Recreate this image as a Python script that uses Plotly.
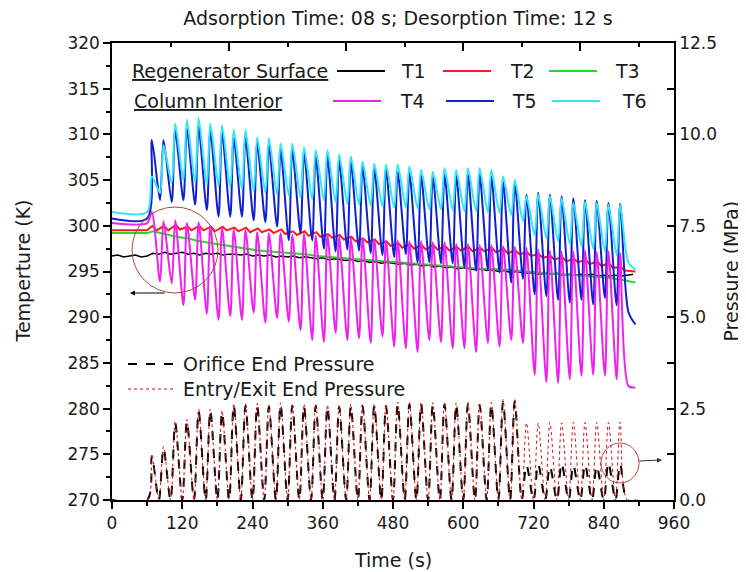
import plotly.graph_objects as go

# cycle schedule: 8 s adsorption + 12 s desorption, first cycle at 60 s
cycle_start = list(range(60, 880, 20))   # 41 cycles
t_end = 894

# steady temperatures before cycling starts (K)
pre_T1, pre_T2, pre_T3 = 296.7, 299.5, 299.2
pre_T4, pre_T5, pre_T6 = 300.3, 300.8, 301.5

# T4 (column interior, magenta): peak at end of adsorption, trough after desorption
T4_peak = [301.5, 300.5, 300.6, 300.3, 300.4, 300.0, 299.8, 299.6, 299.5, 299.3,
           299.2, 299.2, 299.0, 299.1, 298.9, 299.0, 298.8, 298.6, 298.7, 298.5,
           298.4, 298.4, 298.3, 298.3, 298.2, 298.2, 298.0, 298.0, 297.9, 297.9,
           297.8, 297.7, 297.6, 297.4, 297.3, 297.2, 297.2, 297.3, 297.1, 297.2,
           297.0]
T4_trough = [293.9, 293.7, 291.3, 291.9, 290.4, 289.7, 290.1, 289.7, 290.5, 289.4,
             289.9, 289.5, 288.6, 287.5, 287.3, 288.3, 287.5, 287.7, 287.2, 287.9,
             286.8, 286.6, 286.2, 287.5, 287.3, 286.6, 286.6, 286.2, 287.2, 286.8,
             287.5, 287.2, 283.7, 282.9, 282.8, 283.2, 283.6, 283.7, 283.6, 283.2,
             282.5]
T4_last = 282.3

# T5 (blue)
T5_peak = [309.4, 309.4, 310.4, 310.6, 310.8, 310.4, 310.2, 309.6, 309.6, 309.0,
           308.8, 308.4, 308.3, 308.0, 307.6, 307.6, 307.2, 307.0, 306.5, 306.3,
           306.2, 305.9, 305.8, 305.5, 305.4, 305.6, 305.5, 305.6, 305.6, 305.4,
           304.8, 304.8, 303.4, 303.6, 303.4, 303.2, 303.0, 302.8, 302.7, 302.5,
           302.4]
T5_trough = [302.8, 302.6, 302.8, 302.3, 301.7, 301.0, 301.0, 301.0, 300.6, 300.4,
             299.9, 298.4, 299.2, 298.4, 297.5, 297.2, 297.4, 297.3, 297.0, 296.8,
             296.6, 296.9, 296.0, 296.0, 295.9, 295.9, 295.4, 295.1, 295.2, 294.9,
             293.8, 294.2, 292.5, 292.3, 291.9, 291.6, 291.9, 291.4, 292.1, 291.3,
             290.6]
T5_last = 289.2

# T6 (cyan)
T6_peak = [305.4, 308.8, 311.2, 311.6, 311.8, 311.2, 311.0, 310.5, 310.5, 309.7,
           309.6, 309.0, 309.0, 308.6, 308.3, 308.3, 307.8, 307.6, 307.0, 306.8,
           306.7, 306.7, 306.5, 306.1, 305.9, 306.3, 306.1, 306.3, 306.3, 306.1,
           305.4, 305.0, 303.2, 303.4, 303.2, 303.0, 302.5, 302.6, 302.5, 302.3,
           302.3]
T6_trough = [303.6, 304.7, 305.0, 304.7, 304.5, 304.3, 304.2, 304.0, 303.8, 303.6,
             303.4, 303.3, 303.1, 302.9, 302.8, 302.6, 302.4, 302.3, 302.2, 302.1,
             302.0, 302.0, 301.9, 301.8, 301.8, 301.7, 301.6, 301.6, 301.5, 301.4,
             301.2, 300.5, 299.0, 298.6, 298.3, 298.0, 297.8, 297.5, 297.2, 296.8,
             296.0]
T6_last = 295.2

# T2 (regenerator surface, red): small bump each cycle on a slowly falling base
T2_bump = [300.0, 300.0, 300.1, 299.9, 300.0, 299.9, 299.9, 299.8, 299.8, 299.7,
           299.6, 299.6, 299.4, 299.4, 299.3, 299.1, 299.0, 298.8, 298.6, 298.5,
           298.3, 298.1, 298.0, 297.9, 297.9, 297.8, 297.7, 297.7, 297.6, 297.6,
           297.5, 297.3, 297.1, 296.9, 296.7, 296.6, 296.4, 296.3, 296.1, 295.9,
           295.5]
T2_base = [299.5, 299.5, 299.6, 299.5, 299.5, 299.4, 299.5, 299.4, 299.3, 299.3,
           299.2, 299.1, 299.0, 298.9, 298.8, 298.7, 298.5, 298.3, 298.2, 298.0,
           297.8, 297.6, 297.5, 297.4, 297.4, 297.3, 297.3, 297.2, 297.2, 297.1,
           297.0, 296.9, 296.7, 296.5, 296.3, 296.1, 296.0, 295.8, 295.6, 295.4,
           295.1]
T2_last = 295.0

# T3 (green), one reading per cycle
T3_cycle = [299.4, 299.1, 298.8, 298.6, 298.3, 298.1, 297.9, 297.7, 297.5, 297.3,
            297.2, 297.1, 297.0, 296.9, 296.7, 296.6, 296.5, 296.4, 296.3, 296.2,
            296.1, 296.0, 295.9, 295.8, 295.7, 295.6, 295.5, 295.4, 295.3, 295.3,
            295.2, 295.1, 295.0, 294.9, 294.8, 294.7, 294.6, 294.5, 294.4, 294.3,
            294.1]
T3_last = 293.8

# T1 (black), every 10 s from 0 to 890 s
T1_time = list(range(0, 900, 10))
T1 = [296.7, 296.8, 296.6, 296.7, 296.8, 296.6, 296.7,
      297.0, 296.9, 297.1, 296.9, 297.0, 297.1, 296.9, 297.0, 296.8, 297.0, 296.9, 297.0, 296.8, 296.9,
      296.9, 296.8, 296.9, 296.7, 296.8, 296.7, 296.8, 296.6, 296.7, 296.6,
      296.7, 296.5, 296.6, 296.5, 296.4, 296.5, 296.3, 296.4, 296.3, 296.2,
      296.3, 296.1, 296.2, 296.0, 296.1, 295.9, 296.0, 295.9, 295.8, 295.9,
      295.7, 295.8, 295.6, 295.7, 295.5, 295.6, 295.4, 295.5, 295.3, 295.4,
      295.3, 295.2, 295.3, 295.1, 295.2, 295.0, 295.1, 294.9, 295.0, 294.9,
      294.8, 294.9, 294.7, 294.8, 294.7, 294.8, 294.6, 294.7, 294.6, 294.7,
      294.6, 294.7, 294.5, 294.6, 294.5, 294.6, 294.5, 294.6, 294.7]

# pressures (MPa): peak of each cycle, back to ~0 at start of next
P_entry_peak = [1.25, 1.46, 2.16, 2.20, 2.49, 2.49, 2.45, 2.64, 2.64, 2.64,
                2.60, 2.66, 2.64, 2.62, 2.62, 2.60, 2.60, 2.62, 2.62, 2.64,
                2.62, 2.68, 2.68, 2.68, 2.66, 2.67, 2.66, 2.68, 2.66, 2.67,
                2.75, 2.75, 2.11, 2.11, 2.12, 2.11, 2.13, 2.12, 2.13, 2.12,
                2.13]
P_orifice_peak = [1.20, 1.40, 2.10, 2.15, 2.42, 2.44, 2.40, 2.58, 2.58, 2.58,
                  2.55, 2.60, 2.58, 2.57, 2.57, 2.55, 2.55, 2.57, 2.57, 2.58,
                  2.57, 2.62, 2.62, 2.62, 2.60, 2.61, 2.60, 2.62, 2.60, 2.61,
                  2.68, 2.70, 0.95, 0.98, 0.92, 1.00, 0.95, 0.97, 0.93, 1.02,
                  0.98]
P_floor = 0.0


def oscillation(pre, peaks, troughs, last):
    """interleave peak (8 s into cycle) and trough (2 s into next cycle)"""
    t, v = [0, 60], [pre, pre]
    for k, t0 in enumerate(cycle_start):
        t += [t0 + 8, t0 + 22]
        v += [peaks[k], troughs[k]]
    t.append(t_end)
    v.append(last)
    return t, v


def bumps(pre, peaks, base, last):
    t, v = [0, 60], [pre, pre]
    for k, t0 in enumerate(cycle_start):
        t += [t0 + 9, t0 + 16]
        v += [peaks[k], base[k]]
    t.append(t_end)
    v.append(last)
    return t, v


def pressure(peaks):
    t, v = [0, 60], [P_floor, P_floor]
    for k, t0 in enumerate(cycle_start):
        t += [t0 + 8, t0 + 20]
        v += [peaks[k], P_floor]
    t.append(900)
    v.append(P_floor)
    return t, v


fig = go.Figure()

# pressures on right axis
tx, px_ = pressure(P_orifice_peak)
fig.add_trace(go.Scatter(x=tx, y=px_, yaxis='y2', mode='lines', line_shape='spline',
                         line=dict(color='black', width=2, dash='dash', smoothing=0.9)))
tx, px_ = pressure(P_entry_peak)
fig.add_trace(go.Scatter(x=tx, y=px_, yaxis='y2', mode='lines', line_shape='spline',
                         line=dict(color='#cc1111', width=1, dash='dot', smoothing=0.9)))

# temperatures
fig.add_trace(go.Scatter(x=T1_time, y=T1, mode='lines', line=dict(color='black', width=1.5)))
tx, ty = bumps(pre_T2, T2_bump, T2_base, T2_last)
fig.add_trace(go.Scatter(x=tx, y=ty, mode='lines', line=dict(color='#ff1a1a', width=2)))
t3x = [0, 60] + [t0 + 10 for t0 in cycle_start] + [t_end]
t3y = [pre_T3, pre_T3] + T3_cycle + [T3_last]
fig.add_trace(go.Scatter(x=t3x, y=t3y, mode='lines', line=dict(color='#22dd22', width=2)))
tx, ty = oscillation(pre_T5, T5_peak, T5_trough, T5_last)
fig.add_trace(go.Scatter(x=tx, y=ty, mode='lines', line_shape='spline',
                         line=dict(color='#1020d0', width=2, smoothing=0.8)))
tx, ty = oscillation(pre_T6, T6_peak, T6_trough, T6_last)
fig.add_trace(go.Scatter(x=tx, y=ty, mode='lines', line_shape='spline',
                         line=dict(color='#33e5f5', width=2, smoothing=0.8)))
tx, ty = oscillation(pre_T4, T4_peak, T4_trough, T4_last)
fig.add_trace(go.Scatter(x=tx, y=ty, mode='lines', line_shape='spline',
                         line=dict(color='#ee22ee', width=2, smoothing=0.8)))

# dummy trace so the top (mirror) axis is drawn
fig.add_trace(go.Scatter(x=[None], y=[None], xaxis='x2', mode='lines', hoverinfo='skip'))

# page pixel -> paper helpers (page body has an 8 px margin)
OFF = 8
W, H = 746 - OFF, 572 - OFF
L, R, T, B = 112, 674, 43, 500
def px(x): return (x - L) / (R - L)
def py(y): return (B - y) / (B - T)

FONT = 'DejaVu Sans, sans-serif'
ink = '#1a1a1a'

shapes, annots = [], []

# legend, temperatures
rows = [(71, '<u>Regenerator Surface</u>', 130,
         [('T1', 'black', 337, 399), ('T2', '#ff1a1a', 443, 508), ('T3', '#22dd22', 549, 613)]),
        (101, '<u>Column Interior</u>', 132,
         [('T4', '#ee22ee', 333, 398), ('T5', '#1020d0', 446, 510), ('T6', '#33e5f5', 552, 620)])]
for y, head, hx, items in rows:
    annots.append(dict(x=px(hx), y=py(y), text=head, xanchor='left', yanchor='middle',
                       showarrow=False))
    for name, col, lx, tx_ in items:
        shapes.append(dict(type='line', xref='paper', yref='paper', x0=px(lx), x1=px(lx + 48),
                           y0=py(y), y1=py(y), line=dict(color=col, width=2)))
        annots.append(dict(x=px(tx_), y=py(y), text=name, xanchor='left', yanchor='middle',
                           showarrow=False))

# legend, pressures
for y, txt, dash, col, w in [(364, 'Orifice End Pressure', 'dash', 'black', 2),
                             (389, 'Entry/Exit End Pressure', 'dot', '#cc1111', 1)]:
    shapes.append(dict(type='line', xref='paper', yref='paper', x0=px(128), x1=px(176),
                       y0=py(y), y1=py(y), line=dict(color=col, width=w, dash=dash)))
    annots.append(dict(x=px(181), y=py(y), text=txt, xanchor='left', yanchor='middle',
                       showarrow=False))

# circles and arrows marking which axis each group uses
shapes.append(dict(type='circle', xref='paper', yref='paper', x0=px(132), x1=px(218),
                   y0=py(293), y1=py(207), line=dict(color='#b5443a', width=1)))
shapes.append(dict(type='circle', xref='paper', yref='paper', x0=px(601), x1=px(639),
                   y0=py(483), y1=py(443), line=dict(color='#b5443a', width=1)))
annots.append(dict(x=px(130), y=py(293), ax=36, ay=0, showarrow=True, arrowhead=2,
                   arrowsize=1, arrowwidth=1, arrowcolor='black', text=''))
annots.append(dict(x=px(662), y=py(460), ax=-24, ay=1, showarrow=True, arrowhead=2,
                   arrowsize=1, arrowwidth=1, arrowcolor='#333', text=''))

# axis titles
annots.append(dict(x=0.5, y=py(560), text='Time (s)', showarrow=False,
                   xanchor='center', yanchor='middle'))
annots.append(dict(x=px(22), y=0.5, text='Temperture (K)', showarrow=False, textangle=-90,
                   xanchor='center', yanchor='middle'))
annots.append(dict(x=px(730), y=0.5, text='Pressure (MPa)', showarrow=False, textangle=-90,
                   xanchor='center', yanchor='middle'))
for a in annots:
    a.setdefault('xref', 'paper')
    a.setdefault('yref', 'paper')
    a.setdefault('font', dict(family=FONT, size=19, color=ink))

axis_common = dict(showline=True, linewidth=1.5, linecolor='black', showgrid=False,
                   zeroline=False, tickwidth=1.5, tickcolor='black')

fig.update_layout(
    width=W, height=H,
    margin=dict(l=L - OFF, r=W - (R - OFF), t=T - OFF, b=H - (B - OFF)),
    plot_bgcolor='white', paper_bgcolor='white',
    font=dict(family=FONT, size=17, color=ink),
    showlegend=False,
    title=dict(text='Adsorption Time: 08 s; Desorption Time: 12 s', x=px(398), xref='paper',
               xanchor='center', y=1 - (18 - OFF) / H, yanchor='middle',
               font=dict(family=FONT, size=19, color=ink)),
    xaxis=dict(range=[0, 960], tick0=0, dtick=120, ticks='outside', ticklen=7,
               minor=dict(dtick=60, ticks='outside', ticklen=4, tickwidth=1.5, tickcolor='black'),
               **axis_common),
    xaxis2=dict(range=[0, 960], overlaying='x', side='top', tick0=0, dtick=200, ticks='inside',
                ticklen=8, showticklabels=False,
                minor=dict(dtick=100, ticks='inside', ticklen=4, tickwidth=1.5, tickcolor='black'),
                **axis_common),
    yaxis=dict(range=[270, 320], tick0=270, dtick=5, ticks='outside', ticklen=7,
               minor=dict(dtick=2.5, ticks='outside', ticklen=4, tickwidth=1.5, tickcolor='black'),
               **axis_common),
    yaxis2=dict(range=[0, 12.5], overlaying='y', side='right', tick0=0, dtick=2.5,
                tickformat='.1f', ticks='inside', ticklen=7,
                minor=dict(dtick=1.25, ticks='inside', ticklen=7, tickwidth=1.5, tickcolor='black'),
                **axis_common),
    shapes=shapes,
    annotations=annots,
)

fig.write_html('out.html')
